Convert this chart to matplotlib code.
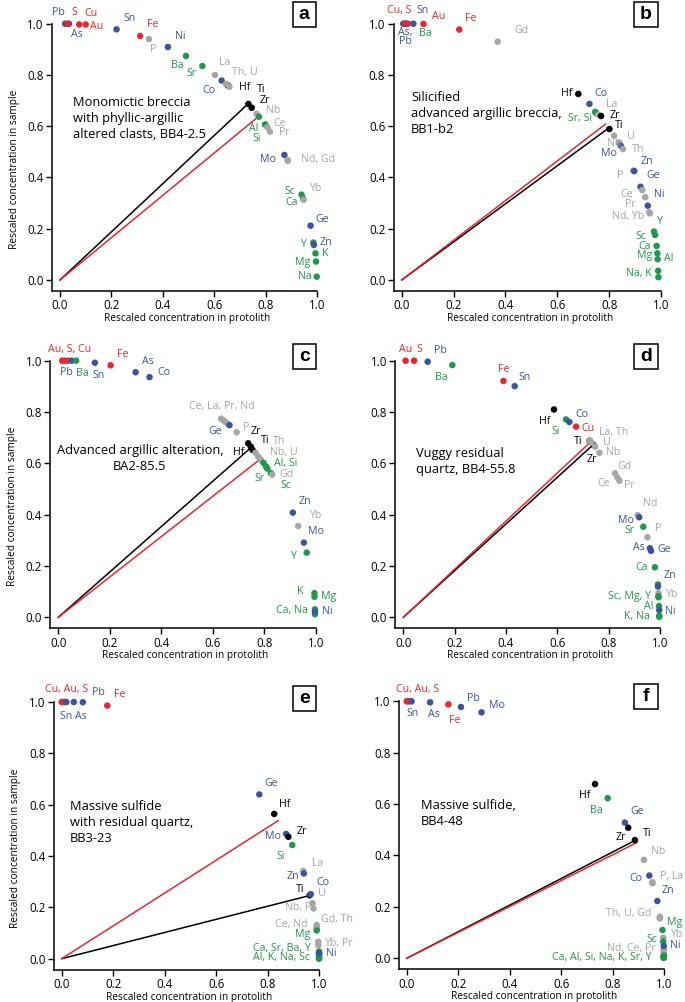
#!/usr/bin/python3

import matplotlib
matplotlib.use('Agg')

import matplotlib.pyplot as plt
import numpy as np
from matplotlib.patches import Rectangle

plt.rcParams['font.family'] = ['Open Sans', 'DejaVu Sans']

RED = '#e8262b'
BLUE = '#3a54a4'
GREEN = '#1b9a4a'
GREY = '#a6a6a6'
BLACK = '#000000'

# element -> colour class (same in every panel)
element_colour = {}
for el in ['S', 'Cu', 'Au', 'Fe']:
    element_colour[el] = RED
for el in ['Pb', 'As', 'Sn', 'Ni', 'Co', 'Mo', 'Zn', 'Ge']:
    element_colour[el] = BLUE
for el in ['Ba', 'Sr', 'Al', 'Si', 'Sc', 'Ca', 'Y', 'K', 'Mg', 'Na']:
    element_colour[el] = GREEN
for el in ['P', 'La', 'Th', 'U', 'Nb', 'Ce', 'Pr', 'Nd', 'Gd', 'Yb']:
    element_colour[el] = GREY
for el in ['Hf', 'Ti', 'Zr']:
    element_colour[el] = BLACK

# ---- panel a: BB4-2.5
a_elem = ['Pb', 'As', 'S', 'Cu', 'Au', 'Sn', 'Fe', 'P', 'Ni', 'Ba', 'Sr', 'La', 'Co', 'Hf', 'Th', 'U',
          'Ti', 'Zr', 'Nb', 'Al', 'Si', 'Ce', 'Pr', 'Mo', 'Nd', 'Gd', 'Sc', 'Ca', 'Yb', 'Ge', 'Y', 'Zn',
          'K', 'Mg', 'Na']
a_x = [0.02, 0.035, 0.03, 0.075, 0.10, 0.22, 0.312, 0.346, 0.42, 0.49, 0.554, 0.603, 0.629, 0.652, 0.646, 0.659,
       0.733, 0.746, 0.765, 0.774, 0.798, 0.807, 0.817, 0.873, 0.886, 0.886, 0.940, 0.946, 0.948, 0.975, 0.986, 0.988,
       0.994, 0.996, 0.999]
a_y = [1.0, 1.0, 1.0, 0.997, 0.997, 0.978, 0.952, 0.940, 0.909, 0.874, 0.835, 0.800, 0.778, 0.760, 0.765, 0.754,
       0.687, 0.672, 0.648, 0.637, 0.607, 0.596, 0.579, 0.488, 0.468, 0.465, 0.333, 0.318, 0.313, 0.212, 0.146, 0.137,
       0.104, 0.072, 0.013]
a_immobile = (0.728, 0.684)
a_red = (0.775, 0.640)
a_labels = ['Pb', 'S', 'Cu', 'Au', 'As', 'Sn', 'Fe', 'P', 'Ni', 'Ba', 'Sr', 'La', 'Th, U', 'Co', 'Hf', 'Ti', 'Zr',
            'Nb', 'Al', 'Si', 'Ce', 'Pr', 'Mo', 'Nd, Gd', 'Sc', 'Ca', 'Yb', 'Ge', 'Y', 'Zn', 'K', 'Mg', 'Na']
a_label_pos = [(-0.008, 1.044), (0.054, 1.044), (0.119, 1.040), (0.142, 0.988), (0.065, 0.956), (0.269, 1.021),
               (0.360, 0.995), (0.363, 0.900), (0.466, 0.952), (0.457, 0.836), (0.513, 0.804), (0.641, 0.848),
               (0.719, 0.809), (0.580, 0.741), (0.719, 0.752), (0.784, 0.744), (0.797, 0.702), (0.829, 0.663),
               (0.754, 0.592), (0.767, 0.553), (0.855, 0.611), (0.874, 0.576), (0.810, 0.471), (1.004, 0.471),
               (0.894, 0.345), (0.900, 0.302), (0.995, 0.358), (1.021, 0.237), (0.946, 0.140), (1.036, 0.147),
               (1.034, 0.104), (0.943, 0.068), (0.952, 0.013)]
a_title = 'Monomictic breccia\nwith phyllic-argillic\naltered clasts, BB4-2.5'

# ---- panel b: BB1-b2
b_elem = ['As', 'Pb', 'Ba', 'Cu', 'S', 'Sn', 'Au', 'Fe', 'Gd', 'Hf', 'Co', 'Sr', 'Si', 'La', 'Zr', 'Ti', 'U',
          'Nb', 'Mo', 'Th', 'P', 'Zn', 'Ge', 'Ce', 'Pr', 'Ni', 'Nd', 'Yb', 'Y', 'Sc', 'Ca', 'Mg', 'Al', 'Na', 'K']
b_x = [0.006, 0.01, 0.02, 0.015, 0.024, 0.045, 0.084, 0.222, 0.370, 0.681, 0.724, 0.746, 0.750, 0.758, 0.769,
       0.801, 0.819, 0.838, 0.845, 0.853, 0.893, 0.897, 0.921, 0.928, 0.939, 0.949, 0.955, 0.957, 0.973, 0.977,
       0.983, 0.986, 0.987, 0.989, 0.990]
b_y = [1.0, 1.0, 1.0, 1.0, 1.0, 1.0, 0.999, 0.977, 0.930, 0.726, 0.687, 0.656, 0.652, 0.644, 0.640,
       0.589, 0.563, 0.537, 0.524, 0.511, 0.427, 0.425, 0.364, 0.351, 0.323, 0.290, 0.265, 0.260, 0.189, 0.176,
       0.133, 0.104, 0.081, 0.036, 0.011]
b_immobile = (0.797, 0.592)
b_red = (0.787, 0.609)
b_labels = ['Cu, S', 'Sn', 'Au', 'Fe', 'As,', 'Pb', 'Ba', 'Gd', 'Hf', 'Co', 'La', 'Sr, Si', 'Zr', 'Ti', 'U', 'Nb',
            'Th', 'Mo', 'Zn', 'P', 'Ge', 'Ce', 'Ni', 'Pr', 'Nd, Yb', 'Y', 'Sc', 'Ca', 'Mg', 'Al', 'Na, K']
b_label_pos = [(-0.010, 1.053), (0.081, 1.053), (0.141, 1.030), (0.267, 1.021), (0.015, 0.966), (0.013, 0.930),
               (0.090, 0.960), (0.460, 0.973), (0.636, 0.728), (0.769, 0.728), (0.810, 0.683), (0.688, 0.631),
               (0.823, 0.640), (0.838, 0.601), (0.884, 0.559), (0.820, 0.533), (0.913, 0.510), (0.801, 0.492),
               (0.945, 0.464), (0.842, 0.407), (0.970, 0.406), (0.868, 0.332), (0.994, 0.335), (0.880, 0.293),
               (0.874, 0.247), (0.992, 0.228), (0.923, 0.169), (0.936, 0.130), (0.936, 0.095), (1.028, 0.085),
               (0.913, 0.026)]
b_title = 'Silicified\nadvanced argillic breccia,\nBB1-b2'

# ---- panel c: BA2-85.5
c_elem = ['Au', 'S', 'Cu', 'Pb', 'Ba', 'Sn', 'Fe', 'As', 'Co', 'Ce', 'La', 'Pr', 'Nd', 'Ge', 'P', 'Hf', 'Zr', 'Ti',
          'Th', 'Nb', 'U', 'Al', 'Sr', 'Si', 'Sc', 'Gd', 'Zn', 'Yb', 'Mo', 'Y', 'K', 'Mg', 'Ca', 'Na', 'Ni']
c_x = [0.015, 0.025, 0.037, 0.052, 0.069, 0.142, 0.203, 0.300, 0.354, 0.632, 0.640, 0.648, 0.656, 0.664, 0.692,
       0.737, 0.747, 0.754, 0.765, 0.776, 0.785, 0.796, 0.806, 0.811, 0.825, 0.830, 0.910, 0.931, 0.953, 0.964,
       0.994, 0.994, 0.996, 0.996, 0.996]
c_y = [1.0, 1.0, 1.0, 1.0, 1.0, 0.992, 0.982, 0.955, 0.936, 0.774, 0.768, 0.762, 0.756, 0.749, 0.721,
       0.678, 0.665, 0.652, 0.641, 0.626, 0.615, 0.602, 0.588, 0.580, 0.562, 0.556, 0.408, 0.356, 0.291, 0.252,
       0.094, 0.080, 0.031, 0.012, 0.022]
c_immobile = (0.744, 0.658)
c_red = (0.783, 0.616)
c_labels = ['Au, S, Cu', 'Fe', 'As', 'Pb', 'Ba', 'Sn', 'Co', 'Ce, La, Pr, Nd', 'Ge', 'P', 'Zr', 'Ti', 'Th', 'Hf',
            'Nb, U', 'Al, Si', 'Gd', 'Sr', 'Sc', 'Zn', 'Yb', 'Mo', 'Y', 'K', 'Mg', 'Ca, Na', 'Ni']
c_label_pos = [(0.043, 1.042), (0.250, 1.026), (0.347, 0.996), (0.032, 0.953), (0.094, 0.951), (0.155, 0.944),
               (0.410, 0.955), (0.634, 0.823), (0.609, 0.726), (0.728, 0.740), (0.768, 0.724), (0.802, 0.688),
               (0.856, 0.684), (0.699, 0.643), (0.876, 0.642), (0.884, 0.600), (0.886, 0.557), (0.780, 0.539),
               (0.884, 0.512), (0.957, 0.451), (0.996, 0.395), (1.000, 0.336), (0.912, 0.236), (0.938, 0.100),
               (1.048, 0.083), (0.906, 0.026), (1.045, 0.022)]
c_title = 'Advanced argillic alteration,\nBA2-85.5'

# ---- panel d: BB4-55.8
d_elem = ['Au', 'S', 'Pb', 'Ba', 'Fe', 'Sn', 'Hf', 'Si', 'Co', 'Cu', 'Ti', 'Zr', 'La', 'Th', 'U', 'Nb', 'Gd', 'Ce',
          'Pr', 'Nd', 'Mo', 'Sr', 'P', 'As', 'Ge', 'Ca', 'Sc', 'Zn', 'Yb', 'Mg', 'Y', 'Al', 'Ni', 'K', 'Na']
d_x = [0.009, 0.042, 0.095, 0.191, 0.390, 0.434, 0.587, 0.634, 0.647, 0.673, 0.726, 0.740, 0.727, 0.733, 0.747,
       0.764, 0.825, 0.834, 0.842, 0.913, 0.919, 0.935, 0.951, 0.961, 0.965, 0.980, 0.992, 0.992, 0.994, 0.994,
       0.994, 0.996, 0.997, 0.997, 0.997]
d_y = [1.0, 1.0, 0.996, 0.983, 0.921, 0.901, 0.810, 0.771, 0.761, 0.743, 0.688, 0.672, 0.688, 0.680, 0.665,
       0.641, 0.561, 0.545, 0.532, 0.398, 0.390, 0.353, 0.312, 0.269, 0.259, 0.195, 0.128, 0.120, 0.094, 0.082,
       0.078, 0.044, 0.028, 0.006, 0.002]
d_immobile = (0.738, 0.671)
d_red = (0.730, 0.684)
d_labels = ['Au', 'S', 'Pb', 'Ba', 'Fe', 'Sn', 'Hf', 'Co', 'Si', 'Cu', 'La, Th', 'Ti', 'U', 'Nb', 'Zr', 'Gd', 'Ce',
            'Pr', 'Nd', 'Mo', 'Sr', 'P', 'As', 'Ge', 'Ca', 'Zn', 'Sc, Mg, Y', 'Yb', 'Al', 'Ni', 'K, Na']
d_label_pos = [(0.009, 1.044), (0.061, 1.044), (0.143, 1.039), (0.149, 0.934), (0.390, 0.966), (0.474, 0.934),
               (0.549, 0.762), (0.697, 0.792), (0.595, 0.723), (0.721, 0.736), (0.818, 0.721), (0.682, 0.684),
               (0.792, 0.681), (0.816, 0.642), (0.736, 0.616), (0.861, 0.587), (0.781, 0.522), (0.881, 0.513),
               (0.962, 0.444), (0.866, 0.377), (0.881, 0.338), (0.991, 0.347), (0.916, 0.271), (1.017, 0.265),
               (0.929, 0.195), (1.039, 0.161), (0.883, 0.083), (1.045, 0.087), (0.955, 0.044), (1.039, 0.022),
               (0.909, 0.005)]
d_title = 'Vuggy residual\nquartz, BB4-55.8'

# ---- panel e: BB3-23
e_elem = ['Cu', 'Au', 'S', 'Sn', 'As', 'Pb', 'Fe', 'Ge', 'Hf', 'Mo', 'Zr', 'Si', 'La', 'Zn', 'Ti', 'U', 'Co', 'Nb',
          'P', 'Gd', 'Th', 'Ce', 'Nd', 'Mg', 'Yb', 'Pr', 'Ca', 'Sr', 'Ba', 'Y', 'Al', 'K', 'Na', 'Sc', 'Ni']
e_x = [0.0, 0.006, 0.012, 0.018, 0.047, 0.082, 0.177, 0.767, 0.825, 0.871, 0.880, 0.895, 0.938, 0.940, 0.963,
       0.968, 0.966, 0.974, 0.977, 0.990, 0.990, 0.990, 0.990, 0.990, 0.996, 0.996, 0.999, 0.999, 0.999, 0.999,
       0.999, 0.999, 0.999, 0.999, 0.999]
e_y = [1.0, 1.0, 1.0, 1.0, 1.0, 0.999, 0.986, 0.640, 0.564, 0.486, 0.475, 0.443, 0.342, 0.332, 0.247,
       0.252, 0.251, 0.216, 0.196, 0.131, 0.125, 0.120, 0.116, 0.110, 0.066, 0.053, 0.028, 0.024, 0.020, 0.016,
       0.008, 0.004, 0.002, 0.0, 0.021]
e_immobile = (0.970, 0.248)
e_red = (0.841, 0.538)
e_labels = ['Cu, Au, S', 'Pb', 'Fe', 'Sn As', 'Ge', 'Hf', 'Zr', 'Mo', 'Si', 'La', 'Zn', 'Co', 'Ti', 'U', 'Nb, P',
            'Gd, Th', 'Ce, Nd', 'Mg', 'Yb, Pr', 'Ca, Sr, Ba, Y', 'Al, K, Na, Sc', 'Ni']
e_label_pos = [(0.019, 1.047), (0.142, 1.038), (0.224, 1.030), (0.045, 0.943), (0.815, 0.683), (0.867, 0.599),
               (0.932, 0.495), (0.819, 0.475), (0.851, 0.400), (0.994, 0.369), (0.899, 0.319), (1.013, 0.296),
               (0.925, 0.270), (1.009, 0.255), (0.916, 0.199), (1.069, 0.151), (0.893, 0.133), (0.935, 0.093),
               (1.074, 0.060), (0.854, 0.041), (0.854, 0.003), (1.048, 0.021)]
e_title = 'Massive sulfide\nwith residual quartz,\nBB3-23'

# ---- panel f: BB4-48
f_elem = ['Cu', 'Au', 'S', 'Sn', 'As', 'Fe', 'Pb', 'Mo', 'Hf', 'Ba', 'Ge', 'Zr', 'Ti', 'Nb', 'Co', 'P', 'La', 'Zn',
          'Th', 'U', 'Gd', 'Mg', 'Yb', 'Sc', 'Nd', 'Ce', 'Pr', 'Ni', 'Ca', 'Al', 'Si', 'Na', 'K', 'Sr', 'Y']
f_x = [0.0, 0.006, 0.012, 0.019, 0.091, 0.162, 0.211, 0.291, 0.732, 0.781, 0.848, 0.861, 0.887, 0.922, 0.943,
       0.955, 0.955, 0.974, 0.984, 0.984, 0.984, 0.994, 0.997, 0.997, 0.999, 0.999, 0.999, 0.999, 0.999, 0.999,
       0.999, 0.999, 0.999, 0.999, 0.999]
f_y = [1.0, 1.0, 1.0, 1.0, 0.996, 0.988, 0.978, 0.957, 0.678, 0.623, 0.528, 0.508, 0.460, 0.383, 0.322,
       0.296, 0.292, 0.223, 0.162, 0.158, 0.155, 0.110, 0.080, 0.065, 0.035, 0.028, 0.022, 0.048, 0.010, 0.008,
       0.006, 0.005, 0.004, 0.003, 0.002]
f_immobile = (0.890, 0.460)
f_red = (0.894, 0.450)
f_labels = ['Cu, Au, S', 'Sn', 'As', 'Fe', 'Pb', 'Mo', 'Hf', 'Ba', 'Ge', 'Zr', 'Ti', 'Nb', 'Co', 'P, La', 'Zn',
            'Th, U, Gd', 'Mg', 'Yb', 'Sc', 'Ni', 'Nd, Ce, Pr', 'Ca, Al, Si, Na, K, Sr, Y']
f_label_pos = [(0.043, 1.047), (0.023, 0.953), (0.106, 0.947), (0.185, 0.927), (0.259, 1.009), (0.350, 0.983),
               (0.693, 0.633), (0.738, 0.577), (0.894, 0.571), (0.833, 0.471), (0.933, 0.484), (0.978, 0.415),
               (0.891, 0.309), (1.030, 0.320), (1.017, 0.263), (0.864, 0.173), (1.043, 0.140), (1.047, 0.091),
               (0.952, 0.075), (1.043, 0.049), (0.872, 0.039), (0.758, 0.003)]
f_title = 'Massive sulfide,\nBB4-48'

# ---- layout (pixels in a 685x1002 canvas): data 0 and 1 on each axis, title anchor, letter box
W, H = 685, 1002
XLIM = (-0.031, 1.04)
YLIM = (-0.043, 1.06)

panels = [
    ('a', a_elem, a_x, a_y, a_immobile, a_red, a_labels, a_label_pos, a_title,
     (60, 317, 280, 23.7), (0.052, 0.631, 'left'), (304.3, 14.2), True),
    ('b', b_elem, b_x, b_y, b_immobile, b_red, b_labels, b_label_pos, b_title,
     (401.7, 661, 280, 23.7), (0.036, 0.648, 'left'), (645.8, 14.7), False),
    ('c', c_elem, c_x, c_y, c_immobile, c_red, c_labels, c_label_pos, c_title,
     (58.3, 316, 617.3, 360.7), (0.317, 0.617, 'center'), (304.3, 356.7), True),
    ('d', d_elem, d_x, d_y, d_immobile, d_red, d_labels, d_label_pos, d_title,
     (403.3, 660, 617.3, 360.7), (0.048, 0.608, 'left'), (645.8, 356.7), False),
    ('e', e_elem, e_x, e_y, e_immobile, e_red, e_labels, e_label_pos, e_title,
     (61.7, 319.3, 958.7, 702), (0.032, 0.531, 'left'), (304.3, 698.3), True),
    ('f', f_elem, f_x, f_y, f_immobile, f_red, f_labels, f_label_pos, f_title,
     (406.7, 664, 958.3, 701.3), (0.056, 0.564, 'left'), (645.8, 696.7), False),
]


def add_panel_axes(fig, x0, x1, y0, y1):
    sx = x1 - x0
    sy = y0 - y1
    left = x0 + XLIM[0] * sx
    right = x0 + XLIM[1] * sx
    bottom = y0 - YLIM[0] * sy
    top = y0 - YLIM[1] * sy
    return fig.add_axes([left / W, 1 - bottom / H, (right - left) / W, (bottom - top) / H])


def main():
    fig = plt.figure(figsize=(W / 100, H / 100), dpi=100)

    for (letter, elem, xs, ys, immobile, red, labels, label_pos, title,
         frame, title_pos, box_c, show_ylabel) in panels:
        ax = add_panel_axes(fig, *frame)
        ax.set_xlim(XLIM)
        ax.set_ylim(YLIM)

        ax.plot([0, immobile[0]], [0, immobile[1]], color=BLACK, lw=1.1, zorder=1)
        ax.plot([0, red[0]], [0, red[1]], color=RED, lw=1.1, zorder=1)

        ax.scatter(xs, ys, s=22, c=[element_colour[e] for e in elem], linewidths=0,
                   zorder=2, clip_on=False)

        for text, (lx, ly) in zip(labels, label_pos):
            first = text.split(',')[0].split(' ')[0]
            ax.text(lx, ly, text, color=element_colour[first], fontsize=7.7,
                    ha='center', va='center', clip_on=False, zorder=3)

        tx, ty, tha = title_pos
        ax.text(tx, ty, title, fontsize=9.3, ha=tha, va='center', multialignment=tha,
                linespacing=1.3, color=BLACK)

        for side in ('top', 'right'):
            ax.spines[side].set_visible(False)
        for side in ('left', 'bottom'):
            ax.spines[side].set_linewidth(1.1)
        ax.spines['bottom'].set_bounds(XLIM[0], 1.0)
        ax.spines['left'].set_bounds(YLIM[0], 1.0)

        ticks = np.arange(0, 1.01, 0.2)
        ax.set_xticks(ticks)
        ax.set_yticks(ticks)
        ax.set_xticklabels(['{:.1f}'.format(t) for t in ticks])
        ax.set_yticklabels(['{:.1f}'.format(t) for t in ticks])
        ax.tick_params(direction='out', length=4, width=1.0, labelsize=8.3, pad=2)

        ax.set_xlabel('Rescaled concentration in protolith', fontsize=7.3)
        ax.xaxis.set_label_coords(0.49, -0.078)
        if show_ylabel:
            ax.set_ylabel('Rescaled concentration in sample', fontsize=7.3)
            ax.yaxis.set_label_coords(-0.118, 0.43)

        bw, bh = 23.5, 25
        cx, cy = box_c
        fig.add_artist(Rectangle(((cx - bw / 2) / W, 1 - (cy + bh / 2) / H), bw / W, bh / H,
                                 transform=fig.transFigure, fill=False, lw=1.1, ec=BLACK))
        fig.text(cx / W, 1 - cy / H, letter, fontsize=14, fontweight='bold', ha='center', va='center',
                 family=['Liberation Sans', 'DejaVu Sans'])

    fig.savefig('out.png', dpi=100)
    plt.close(fig)


if __name__ == '__main__':
    main()
